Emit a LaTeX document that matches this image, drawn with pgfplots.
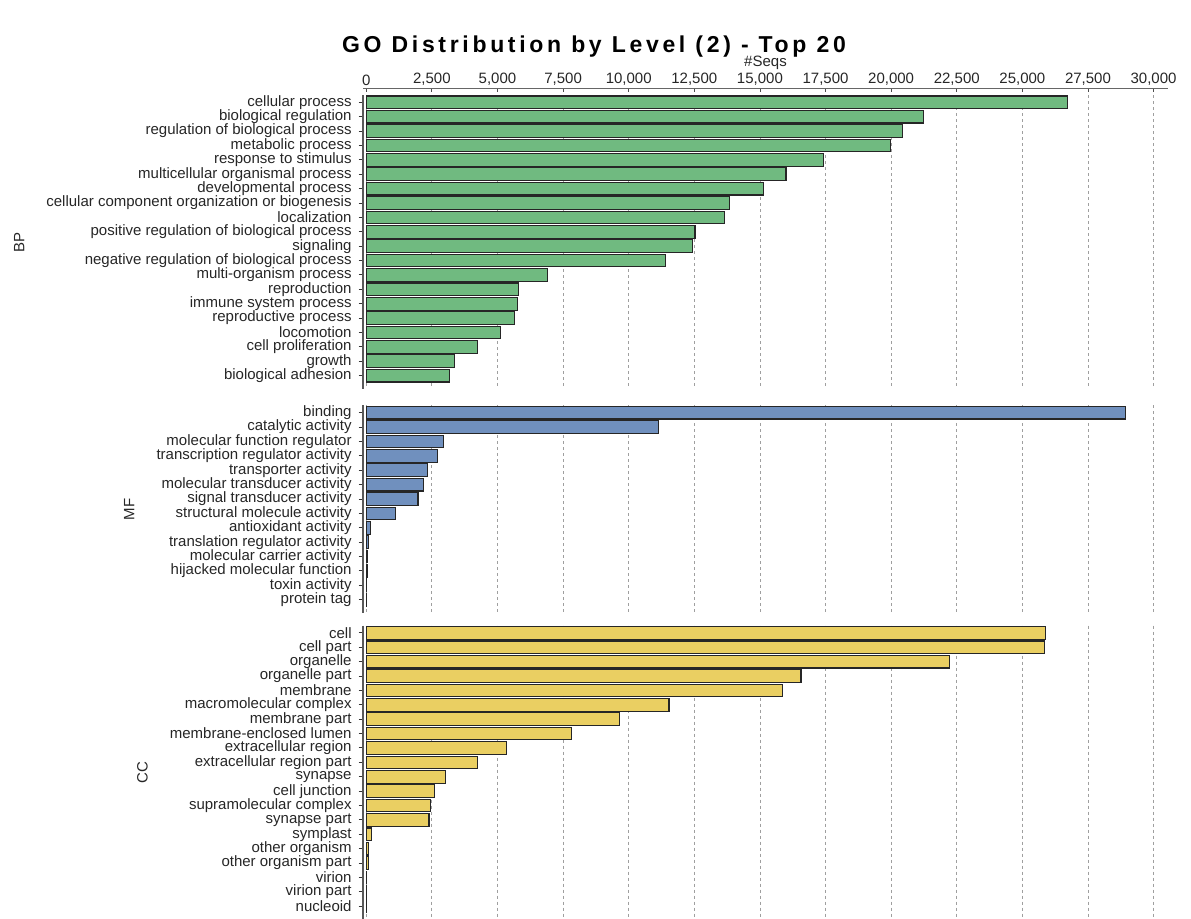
\documentclass[border=0pt]{standalone}
\usepackage{pgfplots}
\pgfplotsset{compat=1.18}
\usepackage{fontspec}
\setmainfont{Liberation Sans}
\newfontfamily\titlefont{Liberation Sans}[LetterSpace=16]
\definecolor{bpgreen}{HTML}{70BA80}
\definecolor{mfblue}{HTML}{7090BE}
\definecolor{ccyellow}{HTML}{EACF62}
\newcommand{\tickfont}{\fontsize{7.5}{9}\selectfont}
\pgfplotsset{
  panel/.style={
    scale only axis, width=402.5pt, xmin=-125, xmax=30550,
    y dir=reverse, ymin=-0.5,
    axis x line*=bottom, axis y line*=left,
    x axis line style={draw=none},
    xtick={0,2500,...,30000}, xticklabels={}, xmajorgrids,
    scaled x ticks=false,
    xtick style={draw=none},
    major x grid style={draw=gray!75, dash pattern=on 1.5pt off 1.5pt, line width=0.4pt},
    y axis line style={line width=0.8pt, black!65},
    ytick style={black!80, line width=0.5pt},
    tick align=outside, major tick length=2.2pt,
    yticklabel style={font=\tickfont, text=black!85, inner sep=0pt, xshift=-3.3pt},
    ylabel style={font=\tickfont, text=black!85},
    ylabel shift=7.5pt,
    xbar, bar width=0.88,
    every axis plot/.append style={draw=black!85, line width=0.55pt},
    clip=false,
  }
}
\begin{document}
\begin{tikzpicture}
\useasboundingbox (0,0) rectangle (595.5pt,-459.5pt);
\node[anchor=base, font=\titlefont\bfseries\fontsize{11.5}{13}\selectfont] at (297pt,-26.5pt) {GO Distribution by Level (2) - Top 20};

% top tick axis
\begin{axis}[
  at={(181.5pt,-44.15pt)}, anchor=north west,
  scale only axis, width=402.5pt, height=1pt,
  xmin=-125, xmax=30550, ymin=0, ymax=1,
  axis y line=none, axis x line*=top,
  x axis line style={black!60, line width=0.5pt},
  xtick={0,2500,...,30000},
  tick align=inside, major tick length=2pt,
  xtick style={black!70, line width=0.4pt},
  scaled x ticks=false,
  /pgf/number format/.cd, fixed, 1000 sep={,}, assume math mode=true,
  /pgfplots/.cd,
  xticklabel style={font=\tickfont, text=black!85, inner sep=0pt, yshift=1pt},
  xlabel={\#Seqs},
  xlabel style={font=\tickfont, text=black!85, inner sep=0pt, yshift=1.5pt},
]
\end{axis}

% BP
\begin{axis}[panel,
  at={(181.5pt,-47.55pt)}, anchor=north west,
  height=146.9pt, ymax=19.92,
  ytick={0,...,19},
  yticklabels={cellular process, biological regulation, regulation of biological process, metabolic process, response to stimulus, multicellular organismal process, developmental process, cellular component organization or biogenesis, localization, positive regulation of biological process, signaling, negative regulation of biological process, multi-organism process, reproduction, immune system process, reproductive process, locomotion, cell proliferation, growth, biological adhesion},
  ylabel={BP},
]
\addplot[fill=bpgreen] coordinates {
(26730,0) (21240,1) (20440,2) (19985,3) (17415,4) (15995,5) (15130,6) (13850,7) (13645,8) (12525,9)
(12425,10) (11395,11) (6910,12) (5810,13) (5770,14) (5640,15) (5105,16) (4245,17) (3355,18) (3165,19)};
\end{axis}

% MF
\begin{axis}[panel,
  at={(181.5pt,-202.75pt)}, anchor=north west,
  height=103.75pt, ymax=13.92,
  ytick={0,...,13},
  yticklabels={binding, catalytic activity, molecular function regulator, transcription regulator activity, transporter activity, molecular transducer activity, signal transducer activity, structural molecule activity, antioxidant activity, translation regulator activity, molecular carrier activity, hijacked molecular function, toxin activity, protein tag},
  ylabel={MF},
]
\addplot[fill=mfblue] coordinates {
(28940,0) (11145,1) (2950,2) (2705,3) (2350,4) (2170,5) (1970,6) (1105,7) (175,8) (80,9)
(35,10) (30,11) (15,12) (8,13)};
\end{axis}

% CC
\begin{axis}[panel,
  at={(181.5pt,-312.85pt)}, anchor=north west,
  height=146.9pt, ymax=19.92,
  ytick={0,...,19},
  yticklabels={cell, cell part, organelle, organelle part, membrane, macromolecular complex, membrane part, membrane-enclosed lumen, extracellular region, extracellular region part, synapse, cell junction, supramolecular complex, synapse part, symplast, other organism, other organism part, virion, virion part, nucleoid},
  ylabel={CC},
]
\addplot[fill=ccyellow] coordinates {
(25865,0) (25860,1) (22240,2) (16565,3) (15850,4) (11535,5) (9645,6) (7810,7) (5345,8) (4240,9)
(3035,10) (2590,11) (2440,12) (2390,13) (215,14) (75,15) (75,16) (25,17) (20,18) (10,19)};
\end{axis}
\end{tikzpicture}
\end{document}
